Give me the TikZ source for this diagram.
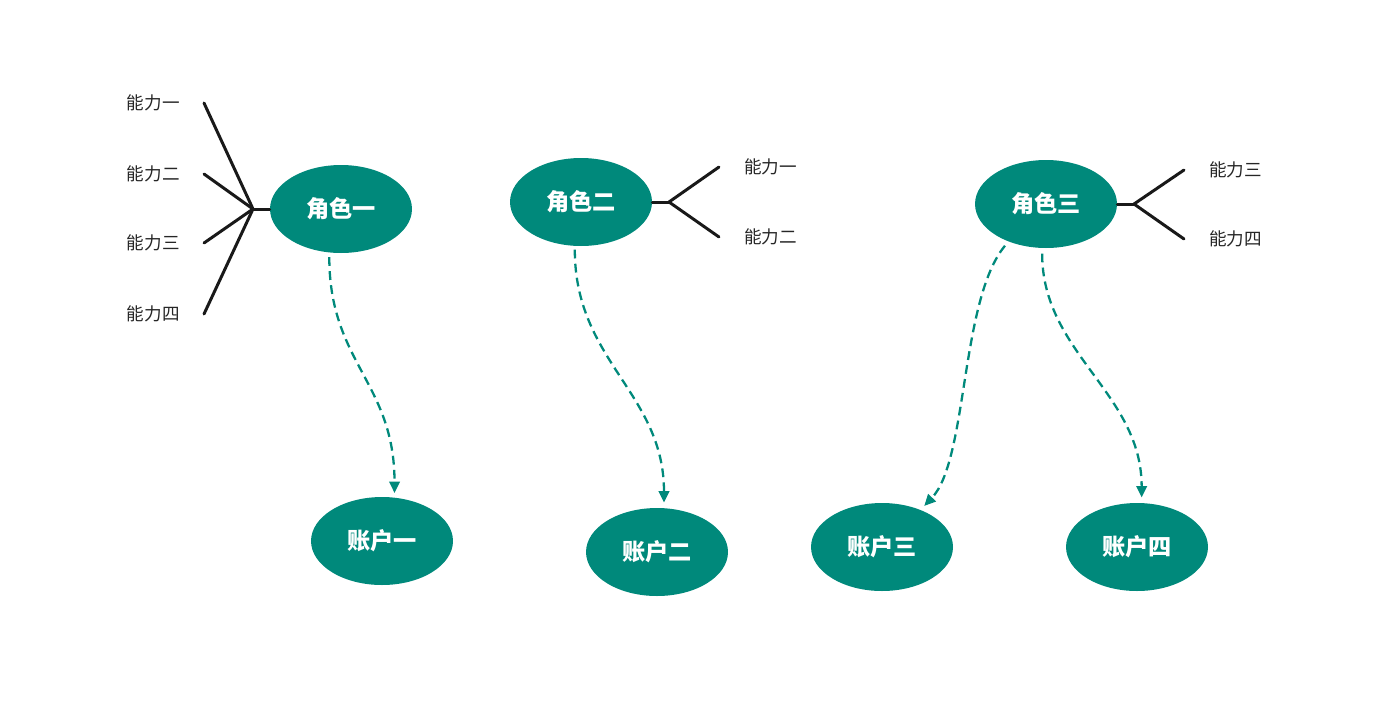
\documentclass[tikz,border=0pt]{standalone}
\usepackage{fontspec}
\newfontfamily\cjk{Noto Sans CJK SC}
\usetikzlibrary{shapes.geometric,positioning,arrows.meta}
\definecolor{lvse}{HTML}{00897B}
\begin{document}
\begin{tikzpicture}[x=0.02cm,y=-0.02cm,
        juese/.style={ellipse, fill=lvse, minimum width=2.84cm, minimum height=1.76cm, inner sep=0pt, text=white, font=\cjk\bfseries\fontsize{13.2}{15}\selectfont},
        nengli/.style={inner sep=0pt, text=black!85, font=\cjk\fontsize{10}{12}\selectfont},
        zhi/.style={line width=1.7pt, black!90, line cap=round},
        xu/.style={lvse, line width=1.3pt, dash pattern=on 5pt off 3pt, -{Triangle[length=6.5pt,width=6pt]}}]
        \useasboundingbox (0,0) rectangle (1381,721);
        %\draw[gray, dashed] (0,0) grid[step=100] (1381,721);

        \node[juese] (r1) at (341,209) {角色一};
        \node[juese] (r2) at (581,202) {角色二};
        \node[juese] (r3) at (1046,204) {角色三};

        \node[juese] (a1) at (382,541) {账户一};
        \node[juese] (a2) at (657,552) {账户二};
        \node[juese] (a3) at (882,547) {账户三};
        \node[juese] (a4) at (1137,547) {账户四};

        % role one
        \coordinate (j1) at (253,209);
        \coordinate (t11) at (204,103);
        \coordinate (t12) at (204,174);
        \coordinate (t13) at (204,243);
        \coordinate (t14) at (204,314);
        \node[nengli, left=0.48cm of t11] (l11) {能力一};
        \node[nengli, left=0.48cm of t12] (l12) {能力二};
        \node[nengli, left=0.48cm of t13] (l13) {能力三};
        \node[nengli, left=0.48cm of t14] (l14) {能力四};
        \draw[zhi] (r1.west) -- (j1);
        \draw[zhi] (j1) -- (t11);
        \draw[zhi] (j1) -- (t12);
        \draw[zhi] (j1) -- (t13);
        \draw[zhi] (j1) -- (t14);

        % role two
        \coordinate (j2) at (669,202);
        \coordinate (t21) at (719,167);
        \coordinate (t22) at (719,237);
        \node[nengli, right=0.5cm of t21] (l21) {能力一};
        \node[nengli, right=0.5cm of t22] (l22) {能力二};
        \draw[zhi] (r2.east) -- (j2);
        \draw[zhi] (j2) -- (t21);
        \draw[zhi] (j2) -- (t22);

        % role three
        \coordinate (j3) at (1134,204);
        \coordinate (t31) at (1184,170);
        \coordinate (t32) at (1184,239);
        \node[nengli, right=0.5cm of t31] (l31) {能力三};
        \node[nengli, right=0.5cm of t32] (l32) {能力四};
        \draw[zhi] (r3.east) -- (j3);
        \draw[zhi] (j3) -- (t31);
        \draw[zhi] (j3) -- (t32);

        % role -> account
        \draw[xu, shorten <=2.5pt, shorten >=2.5pt] (r1.-105) .. controls +(0,110) and +(0,-115) .. (a1.74);
        \draw[xu, shorten <=2pt, shorten >=3pt] (r2.-98) .. controls +(0,115) and +(0,-115) .. (a2.81);
        \draw[xu, shorten <=3pt, shorten >=3pt] (r3.-135) .. controls (960,300) and (968,460) .. (a3.44);
        \draw[xu, shorten <=3pt, shorten >=3pt] (r3.-95) .. controls +(0,105) and +(0,-110) .. (a4.84);
\end{tikzpicture}
\end{document}
